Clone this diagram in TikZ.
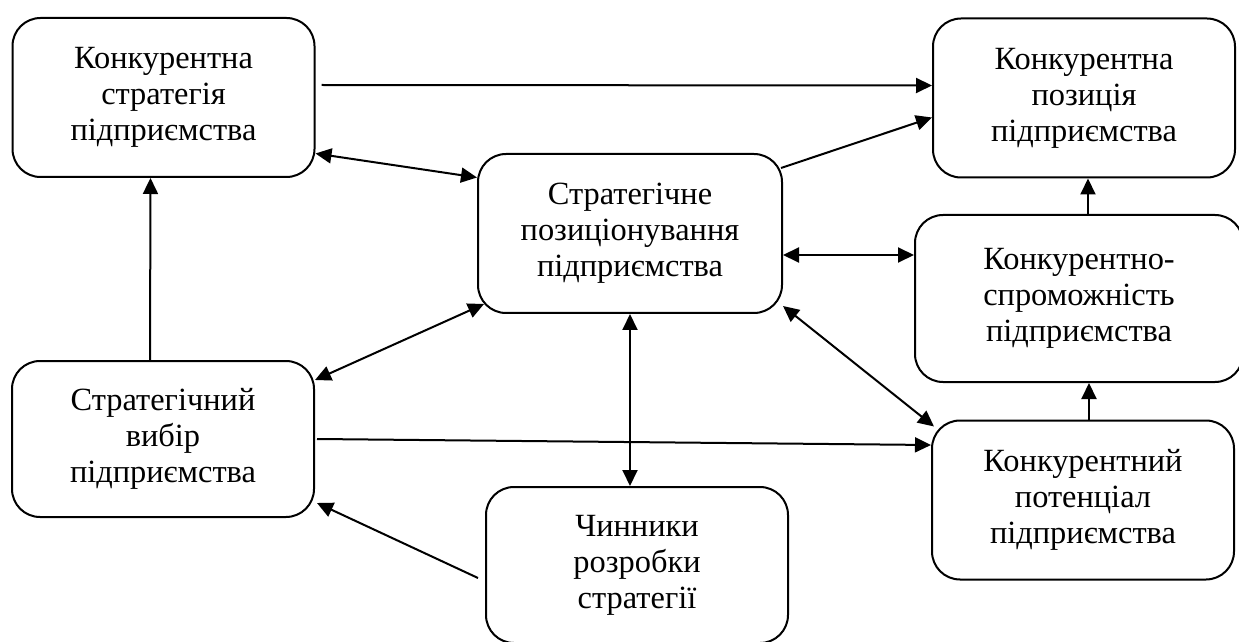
\documentclass[tikz,border=0pt]{standalone}
\usepackage{fontspec}
\setmainfont{Liberation Serif}
\usepackage{tikz}
\usetikzlibrary{arrows.meta}
\tikzset{
  box/.style={draw, rounded corners=14pt, align=center, line width=1pt, inner sep=2pt,
    font=\fontsize{16.2}{18}\selectfont, minimum width=151pt, minimum height=79.5pt},
  arr/.style={-{Triangle[length=8pt, width=7.5pt]}, line width=1pt},
  darr/.style={{Triangle[length=8pt, width=7.5pt]}-{Triangle[length=8pt, width=7.5pt]}, line width=1pt},
}

\begin{document}
\begin{tikzpicture}[x=0.5pt, y=-0.5pt]
\useasboundingbox (0,0) rectangle (1239,642);
\node[box] (strat) at (163.5,97.5) {Конкурентна\\стратегія\\підприємства};
\node[box] (pos) at (1084,98) {Конкурентна\\позиція\\підприємства};
\node[box, minimum width=152pt] (posit) at (630,233.5) {Стратегічне\\позиціонування\\підприємства};
\node[box, minimum width=164pt, minimum height=83.5pt] (comp) at (1079,298.5) {Конкурентно-\\спроможність\\підприємства};
\node[box, minimum height=78pt] (choice) at (163,439) {Стратегічний\\вибір\\підприємства};
\node[box, minimum height=78pt] (fact) at (637,565) {Чинники\\розробки\\стратегії};
\node[box] (pot) at (1083,500) {Конкурентний\\потенціал\\підприємства};
\draw[arr] ([xshift=3pt, yshift=6.25pt]strat.east) -- ([yshift=6.25pt]pos.west);
\draw[darr] ([yshift=-28pt]strat.east) -- ([yshift=28pt]posit.west);
\draw[arr] ([xshift=-1pt, yshift=32.75pt]posit.east) -- ([yshift=-9.75pt]pos.west);
\draw[darr] ([yshift=-10.75pt]posit.east) -- ([yshift=-10.75pt]posit.east -| comp.west);
\draw[arr] ([xshift=2pt]pos.south |- comp.north) -- ([xshift=2pt]pos.south);
\draw[arr] ([xshift=3pt]pot.north) -- ([xshift=3pt]pot.north |- comp.south);
\draw[darr] ([yshift=4pt]posit.south east) -- ([xshift=1.5pt, yshift=-3.5pt]pot.north west);
\draw[arr] ([xshift=1pt]choice.east) -- ([yshift=27.5pt]pot.west);
\draw[darr] ([yshift=29.5pt]choice.east) -- ([xshift=3.5pt, yshift=5pt]posit.south west);
\draw[arr] ([xshift=-6.5pt]choice.north) -- ([xshift=-6.5pt]strat.south);
\draw[arr] ([xshift=-3.5pt, yshift=-6.5pt]fact.west) -- ([xshift=1pt, yshift=-32pt]choice.east);
\draw[darr] (posit.south) -- (posit.south |- fact.north);
\end{tikzpicture}
\end{document}
